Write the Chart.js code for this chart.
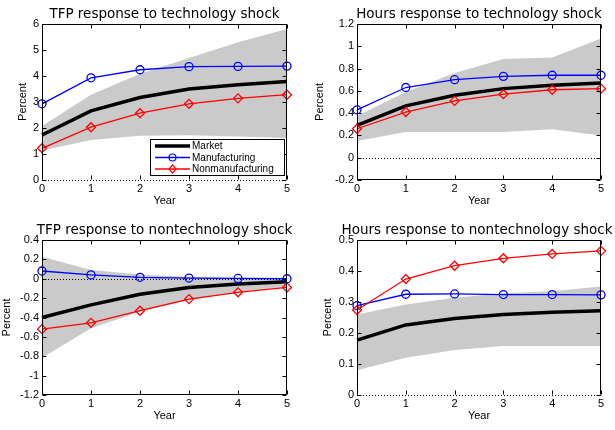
<!DOCTYPE html>
<html><head><meta charset="utf-8">
<script src="https://cdn.jsdelivr.net/npm/chart.js@4.4.0/dist/chart.umd.min.js"></script>
<style>
body{margin:0;background:#fff;}
#wrap{position:relative;width:615px;height:430px;background:#fff;}
canvas{position:absolute;}
</style></head><body>
<div id="wrap">
<canvas id="c1" width="307" height="215" style="left:0;top:0"></canvas>
<canvas id="c2" width="308" height="215" style="left:307px;top:0"></canvas>
<canvas id="c3" width="307" height="215" style="left:0;top:215px"></canvas>
<canvas id="c4" width="308" height="215" style="left:307px;top:215px"></canvas>
</div>
<script>
var years = ['0', '1', '2', '3', '4', '5'];

// TFP response to technology shock
var tfpTechMarket = [1.73, 2.66, 3.17, 3.5, 3.66, 3.79];
var tfpTechManuf = [2.93, 3.93, 4.24, 4.36, 4.37, 4.38];
var tfpTechNonman = [1.22, 2.03, 2.57, 2.93, 3.14, 3.28];
var tfpTechHi = [2.08, 3.28, 4.09, 4.69, 5.3, 5.81];
var tfpTechLo = [1.13, 1.54, 1.7, 1.72, 1.67, 1.62];

// Hours response to technology shock
var hrsTechMarket = [0.29, 0.465, 0.56, 0.62, 0.65, 0.67];
var hrsTechManuf = [0.43, 0.63, 0.70, 0.73, 0.74, 0.74];
var hrsTechNonman = [0.26, 0.41, 0.51, 0.57, 0.61, 0.62];
var hrsTechHi = [0.375, 0.59, 0.76, 0.885, 0.9, 1.07];
var hrsTechLo = [0.15, 0.23, 0.23, 0.23, 0.255, 0.2];

// TFP response to nontechnology shock
var tfpNonMarket = [-0.40, -0.27, -0.16, -0.09, -0.055, -0.03];
var tfpNonManuf = [0.08, 0.04, 0.015, 0.007, 0.003, 0.0];
var tfpNonNonman = [-0.52, -0.455, -0.33, -0.21, -0.14, -0.09];
var tfpNonHi = [0.227, 0.09, 0.045, 0.02, 0.005, -0.01];
var tfpNonLo = [-0.815, -0.51, -0.34, -0.22, -0.14, -0.08];

// Hours response to nontechnology shock
var hrsNonMarket = [0.177, 0.226, 0.247, 0.26, 0.267, 0.272];
var hrsNonManuf = [0.288, 0.325, 0.326, 0.324, 0.324, 0.323];
var hrsNonNonman = [0.274, 0.374, 0.417, 0.441, 0.455, 0.465];
var hrsNonHi = [0.26, 0.292, 0.314, 0.328, 0.335, 0.35];
var hrsNonLo = [0.08, 0.12, 0.145, 0.158, 0.158, 0.158];

var seriesNames = ['Market', 'Manufacturing', 'Nonmanufacturing'];

Chart.defaults.font.family = 'Liberation Sans, Arial, sans-serif';
Chart.defaults.color = '#000';
Chart.defaults.animation = false;

// box round the plot, inward ticks, dotted zero line
var framePlugin = {
    id: 'frame',
    afterDatasetDraw: function(chart, args) {
        if (args.index !== 1) return;
        var a = chart.chartArea, ctx = chart.ctx;
        var y0 = Math.round(chart.scales.y.getPixelForValue(0)) + 0.5;
        ctx.save();
        ctx.strokeStyle = '#000';
        ctx.lineWidth = 1;
        ctx.setLineDash([1, 2]);
        ctx.beginPath();
        ctx.moveTo(a.left, y0);
        ctx.lineTo(a.right, y0);
        ctx.stroke();
        ctx.restore();
    },
    afterDraw: function(chart) {
        var a = chart.chartArea, ctx = chart.ctx;
        var xs = chart.scales.x, ys = chart.scales.y;
        var L = Math.round(a.left) + 0.5, R = Math.round(a.right) - 0.5;
        var T = Math.round(a.top) + 0.5, B = Math.round(a.bottom) - 0.5;
        var zeroAtBottom = ys.min === 0;
        ctx.save();
        ctx.strokeStyle = '#000';
        ctx.lineWidth = 1;
        ctx.beginPath();
        ctx.moveTo(L, B); ctx.lineTo(L, T); ctx.lineTo(R, T); ctx.lineTo(R, B);
        if (!zeroAtBottom) ctx.lineTo(L, B);
        var i, p;
        for (i = 0; i < ys.ticks.length; i++) {
            p = Math.round(ys.getPixelForTick(i)) + 0.5;
            ctx.moveTo(L, p); ctx.lineTo(L + 4, p);
            ctx.moveTo(R, p); ctx.lineTo(R - 4, p);
        }
        for (i = 0; i < xs.ticks.length; i++) {
            p = Math.round(xs.getPixelForTick(i)) + 0.5;
            ctx.moveTo(p, B); ctx.lineTo(p, B - 4);
            ctx.moveTo(p, T); ctx.lineTo(p, T + 4);
        }
        ctx.stroke();
        ctx.restore();

        // panel title
        var t = chart.options.plugins.panelTitle;
        ctx.save();
        ctx.font = '13.5px "DejaVu Sans", sans-serif';
        ctx.fillStyle = '#000';
        ctx.textAlign = 'center';
        ctx.textBaseline = 'middle';
        ctx.fillText(t.text, (a.left + a.right) / 2 + (t.dx || 0), a.top - 10);
        ctx.restore();
    }
};

var legendPlugin = {
    id: 'boxLegend',
    afterDraw: function(chart) {
        var a = chart.chartArea, ctx = chart.ctx;
        var w = 134, h = 36;
        var x = a.right - 3 - w, y = a.bottom - 5 - h;
        ctx.save();
        ctx.fillStyle = '#fff';
        ctx.fillRect(x, y, w, h);
        ctx.strokeStyle = '#000';
        ctx.lineWidth = 1;
        ctx.strokeRect(Math.round(x) + 0.5, Math.round(y) + 0.5, w, h);
        ctx.font = '10px "Liberation Sans", Arial, sans-serif';
        ctx.textBaseline = 'middle';
        for (var i = 0; i < 3; i++) {
            var ds = chart.data.datasets[i + 2];
            var ry = y + 7 + i * 11.5;
            ctx.strokeStyle = ds.borderColor;
            ctx.lineWidth = ds.borderWidth;
            ctx.beginPath();
            ctx.moveTo(x + 5, ry); ctx.lineTo(x + 40, ry);
            ctx.stroke();
            if (ds.pointRadius > 0) {
                ctx.lineWidth = 1.2;
                ctx.beginPath();
                if (ds.pointStyle === 'circle') {
                    ctx.arc(x + 22.5, ry, 3.5, 0, Math.PI * 2);
                } else {
                    ctx.moveTo(x + 22.5, ry - 4); ctx.lineTo(x + 26, ry);
                    ctx.lineTo(x + 22.5, ry + 4); ctx.lineTo(x + 19, ry); ctx.closePath();
                }
                ctx.stroke();
            }
            ctx.fillStyle = '#000';
            ctx.fillText(seriesNames[i], x + 42, ry + 0.5);
        }
        ctx.restore();
    }
};

function makeChart(id, title, market, manuf, nonman, hi, lo, yMin, yMax, yStep, lay, withLegend) {
    var plugins = [framePlugin];
    if (withLegend) plugins.push(legendPlugin);
    return new Chart(document.getElementById(id), {
        type: 'line',
        data: {
            labels: years,
            datasets: [
                { data: hi, borderWidth: 0, pointRadius: 0, backgroundColor: '#cacaca', fill: '+1', order: 6 },
                { data: lo, borderWidth: 0, pointRadius: 0, backgroundColor: '#cacaca', fill: false, order: 5 },
                { label: seriesNames[0], data: market, borderColor: '#000', borderWidth: 3.5, pointRadius: 0, fill: false, order: 3, clip: false },
                { label: seriesNames[1], data: manuf, borderColor: '#0000ff', borderWidth: 1.3, pointRadius: 4,
                  pointStyle: 'circle', pointBorderWidth: 1.3, pointBackgroundColor: 'rgba(0,0,0,0)', pointBorderColor: '#0000ff',
                  fill: false, order: 2, clip: false },
                { label: seriesNames[2], data: nonman, borderColor: '#ff0000', borderWidth: 1.3, pointRadius: 4.5,
                  pointStyle: 'rectRot', pointBorderWidth: 1.3, pointBackgroundColor: 'rgba(0,0,0,0)', pointBorderColor: '#ff0000',
                  fill: false, order: 1, clip: false }
            ]
        },
        options: {
            responsive: false,
            events: [],
            layout: { padding: { left: lay.left, right: lay.right, top: lay.top, bottom: 7 } },
            elements: { line: { tension: 0 } },
            plugins: {
                legend: { display: false },
                tooltip: { enabled: false },
                title: { display: false },
                panelTitle: { text: title, dx: lay.dx || 0 }
            },
            scales: {
                x: {
                    type: 'category',
                    offset: false,
                    grid: { display: false, drawTicks: false },
                    border: { display: false },
                    ticks: { padding: 2, font: { size: 11 }, maxRotation: 0 },
                    title: { display: true, text: 'Year', font: { size: 11 }, padding: 0 },
                    afterFit: function(s) { s.height = 28; }
                },
                y: {
                    min: yMin,
                    max: yMax,
                    grid: { display: false, drawTicks: false },
                    border: { display: false },
                    ticks: {
                        stepSize: yStep,
                        padding: 3,
                        font: { size: 11 },
                        callback: function(v) { return String(+v.toFixed(2)); }
                    },
                    title: { display: true, text: 'Percent', font: { size: 11 }, padding: 0 },
                    afterFit: function(s) { s.width = lay.yw; }
                }
            }
        },
        plugins: plugins
    });
}

makeChart('c1', 'TFP response to technology shock', tfpTechMarket, tfpTechManuf, tfpTechNonman,
    tfpTechHi, tfpTechLo, 0, 6, 1, { left: 16, yw: 26, right: 20, top: 24 }, true);
makeChart('c2', 'Hours response to technology shock', hrsTechMarket, hrsTechManuf, hrsTechNonman,
    hrsTechHi, hrsTechLo, -0.2, 1.2, 0.2, { left: 6, yw: 44, right: 14, top: 24 }, false);
makeChart('c3', 'TFP response to nontechnology shock', tfpNonMarket, tfpNonManuf, tfpNonNonman,
    tfpNonHi, tfpNonLo, -1.2, 0.4, 0.2, { left: 0, yw: 42, right: 20, top: 25 }, false);
makeChart('c4', 'Hours response to nontechnology shock', hrsNonMarket, hrsNonManuf, hrsNonNonman,
    hrsNonHi, hrsNonLo, 0, 0.5, 0.1, { left: 14, yw: 36, right: 14, top: 25, dx: -2 }, false);
</script>
</body></html>
